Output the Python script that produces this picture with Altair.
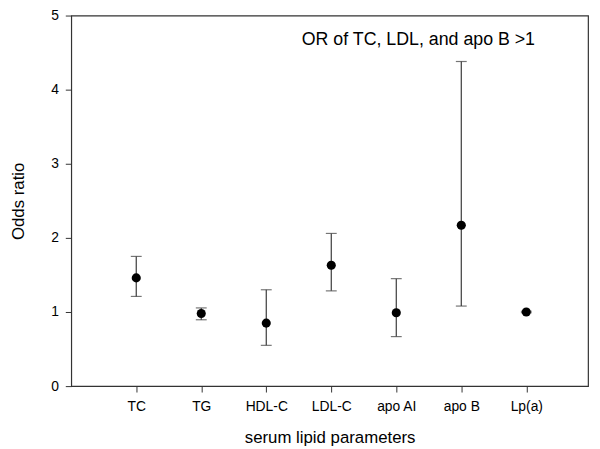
import json
import altair as alt
import pandas as pd

categories = ["TC", "TG", "HDL-C", "LDL-C", "apo AI", "apo B", "Lp(a)"]
odds_ratio = [1.46, 0.98, 0.85, 1.63, 0.99, 2.17, 1.00]
ci_lower = [1.21, 0.895, 0.55, 1.285, 0.668, 1.08, 0.99]
ci_upper = [1.75, 1.055, 1.30, 2.06, 1.45, 4.38, 1.01]

annot_text = ["OR of TC, LDL, and apo B >1"]
annot_x = [5.34]
annot_y = [4.67]

FONT = "Liberation Sans"

df = pd.DataFrame({
    "pos": list(range(1, len(categories) + 1)),
    "param": categories,
    "or": odds_ratio,
    "lo": ci_lower,
    "hi": ci_upper,
})
ann = pd.DataFrame({"x": annot_x, "y": annot_y, "t": annot_text})

label_expr = json.dumps(categories) + "[datum.value - 1]"

x_enc = alt.X(
    "pos:Q",
    scale=alt.Scale(domain=[0, 7.95], nice=False, zero=False),
    axis=alt.Axis(
        values=list(range(1, len(categories) + 1)),
        labelExpr=label_expr,
        title="serum lipid parameters",
        grid=False,
        domain=False,
        tickSize=6,
        tickColor="#333333",
        labelPadding=8,
        labelFontSize=14,
        titleFontSize=17,
        titlePadding=16,
        labelFont=FONT,
        titleFont=FONT,
        titleFontWeight="normal",
        labelColor="black",
        titleColor="black",
    ),
)

y_scale = alt.Scale(domain=[0, 5], nice=False)
y_axis = alt.Axis(
    values=[0, 1, 2, 3, 4, 5],
    format="d",
    title="Odds ratio",
    grid=False,
    domain=False,
    tickSize=6,
    tickColor="#333333",
    labelPadding=7,
    labelFontSize=14,
    titleFontSize=17,
    titlePadding=24,
    labelFont=FONT,
    titleFont=FONT,
    titleFontWeight="normal",
    labelColor="black",
    titleColor="black",
)

base = alt.Chart(df)

rules = base.mark_rule(color="#3a3a3a", strokeWidth=1.2).encode(
    x=x_enc,
    y=alt.Y("lo:Q", scale=y_scale, axis=y_axis),
    y2="hi:Q",
)
caps_lo = base.mark_tick(color="#3a3a3a", orient="horizontal", size=11, thickness=1.2).encode(
    x="pos:Q", y=alt.Y("lo:Q")
)
caps_hi = base.mark_tick(color="#3a3a3a", orient="horizontal", size=11, thickness=1.2).encode(
    x="pos:Q", y=alt.Y("hi:Q")
)
points = base.mark_circle(color="black", opacity=1, size=85).encode(
    x="pos:Q", y=alt.Y("or:Q")
)
text = alt.Chart(ann).mark_text(
    font=FONT, fontSize=18, color="black", align="center", baseline="middle"
).encode(x="x:Q", y="y:Q", text="t:N")

chart = (
    alt.layer(rules, caps_lo, caps_hi, points, text)
    .properties(
        width=523,
        height=375,
        autosize=alt.AutoSizeParams(type="none"),
        padding={"left": 64, "top": 5, "right": 4, "bottom": 60},
    )
    .configure_view(stroke="#333333", strokeWidth=1.2)
)

chart.save("out.html", embed_options={"renderer": "svg", "actions": False})
